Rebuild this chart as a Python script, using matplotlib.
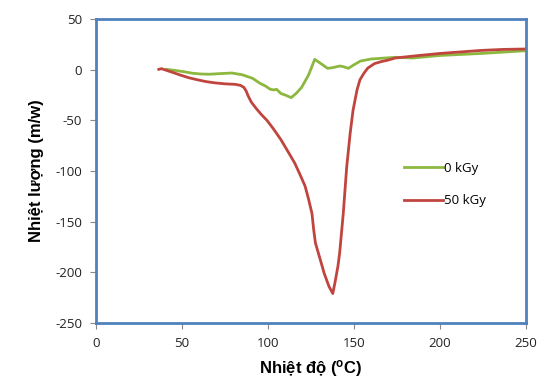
import numpy as np
import matplotlib
matplotlib.use("Agg")
import matplotlib.pyplot as plt

## data
x_0kgy = [41, 46, 51, 56, 61, 66, 71, 79, 85, 91, 95.4, 98.4, 101.4, 103.5, 105, 107.5, 110, 113.5,
          116.5, 119.6, 123.6, 127.2, 130.6, 134.7, 137.7, 141.7, 143.8, 146.8, 149.8,
          153.8, 159.9, 174, 184, 200, 224, 250]
y_0kgy = [0.3, -0.8, -2, -3.5, -4.3, -4.5, -4, -3.3, -5, -8.5, -13.5, -16, -19.4, -20, -19.4, -23.5, -25, -27.6,
          -23.3, -17.4, -5.3, 10.2, 6.2, 1.3, 2, 3.6, 3, 1.3, 4.6,
          8.5, 10.5, 12.2, 11.5, 14, 16, 18.7]

x_50kgy = [36.5, 38, 43, 49, 54, 59, 64, 69, 75, 81, 84, 86, 87.3, 88.5, 90.3, 93, 96, 99.4,
           103, 107.5, 111, 115.5, 118.5, 121.6, 123.5, 125.6, 126.6, 127.6, 130, 132.7,
           135.5, 137.7, 139, 140.7, 141.7, 143.8, 145.8, 147.8, 149.5, 151.8, 153.5, 155.8,
           158, 162, 166, 170, 174, 185, 200, 212, 224, 237, 250]
y_50kgy = [0.3, 1, -1.8, -5.3, -8, -10, -11.8, -13, -14, -14.5, -15.5, -17.5, -21, -26, -32,
           -38, -44, -50, -58, -69, -79, -92, -103, -115, -127, -142, -158, -171, -185, -201,
           -214, -221, -210, -194, -181, -142, -96, -63, -40, -20, -10, -3.6,
           1.5, 6, 8, 9.5, 11.5, 13.5, 16, 17.5, 19, 20, 20.4]

series_names = ["0 kGy", "50 kGy"]
x_ticks = [0, 50, 100, 150, 200, 250]
y_ticks = [50, 0, -50, -100, -150, -200, -250]

fig = plt.figure(figsize=(5.41, 3.84), dpi=100)
ax = fig.add_axes([0.1775, 0.159, 0.7945, 0.7915])

ax.plot(x_0kgy, y_0kgy, color="#8DB83F", lw=2, label=series_names[0])
ax.plot(x_50kgy, y_50kgy, color="#C0453F", lw=2, label=series_names[1])

ax.set_xlim(0, 250)
ax.set_ylim(-250, 50)
ax.set_xticks(x_ticks)
ax.set_yticks(y_ticks)

tick_font = {"family": "Open Sans", "size": 9.5}
ax.set_xticklabels([str(t) for t in x_ticks], fontdict=tick_font)
ax.set_yticklabels([str(t) for t in y_ticks], fontdict=tick_font)
ax.tick_params(direction="out", length=4, color="#888888", width=0.8, pad=6, labelcolor="#222222")

for s in ax.spines.values():
    s.set_color("#4F81BD")
    s.set_linewidth(2)

ax.set_xlabel(r"Nhiệt độ ($\mathregular{^o}$C)", fontsize=12, fontweight="bold",
              family="Liberation Sans", labelpad=6)
ax.set_ylabel("Nhiệt lượng (m/w)", fontsize=12, fontweight="bold",
              family="Liberation Sans", labelpad=8)

ax.legend(loc="upper left", bbox_to_anchor=(0.69, 0.57), frameon=False,
          prop={"family": "Open Sans", "size": 9.5}, handlelength=2.9,
          handletextpad=0.1, labelspacing=1.5)

fig.savefig("out.png", dpi=100)
